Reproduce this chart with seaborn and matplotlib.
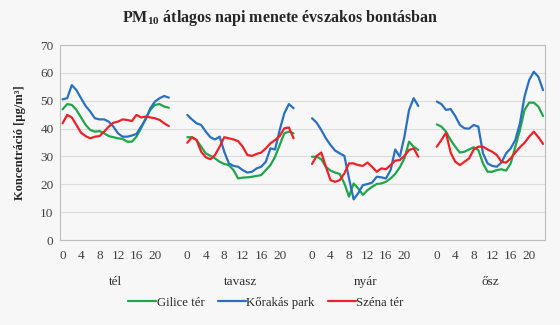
import numpy as np
import pandas as pd
import matplotlib
matplotlib.use("Agg")
import matplotlib.pyplot as plt
import matplotlib.transforms as mtransforms
from matplotlib.lines import Line2D
import seaborn as sns

seasons = ["tél", "tavasz", "nyár", "ősz"]
stations = ["Gilice tér", "Kőrakás park", "Széna tér"]
hours = list(range(24))
hour_ticks = [0, 4, 8, 12, 16, 20]

gilice = {
    "tél": [46.9, 48.8, 48.5, 46.7, 44.0, 41.3, 39.5, 38.9, 39.1, 38.3, 37.3, 36.9,
            36.5, 36.3, 35.3, 35.3, 37.1, 40.1, 43.7, 46.7, 48.5, 48.8, 47.9, 47.5],
    "tavasz": [36.9, 36.9, 35.9, 33.5, 31.1, 30.2, 29.3, 28.1, 27.3, 26.9, 25.1, 22.1,
               22.4, 22.5, 22.7, 23.0, 23.3, 25.1, 26.9, 29.9, 34.1, 38.3, 38.9, 38.3],
    "nyár": [29.9, 29.9, 29.0, 26.3, 24.9, 24.2, 23.7, 20.3, 15.6, 20.3, 18.5, 16.2,
             17.9, 19.1, 20.1, 20.3, 20.9, 22.1, 23.7, 26.1, 29.3, 35.3, 33.5, 32.3],
    "ősz": [41.5, 40.7, 38.9, 35.9, 33.5, 31.4, 31.7, 32.5, 33.3, 32.3, 27.5, 24.5,
            24.5, 25.1, 25.4, 24.9, 27.5, 33.5, 39.5, 46.7, 49.3, 49.3, 47.9, 44.5],
}
korakas = {
    "tél": [50.5, 50.9, 55.6, 53.8, 50.9, 48.1, 46.1, 43.7, 43.3, 43.3, 42.5, 40.7,
            38.3, 37.1, 37.1, 37.5, 38.1, 40.7, 43.3, 47.3, 49.7, 50.9, 51.7, 51.1],
    "tavasz": [44.9, 43.3, 41.9, 41.3, 38.9, 36.9, 36.1, 37.1, 31.7, 27.5, 26.6, 26.3,
               25.1, 24.2, 24.5, 25.7, 26.3, 28.1, 32.9, 32.5, 39.5, 45.5, 48.8, 47.3],
    "nyár": [43.7, 42.1, 39.5, 36.5, 34.1, 32.1, 31.1, 30.2, 22.1, 14.6, 16.8, 19.7,
             20.1, 20.6, 22.7, 22.5, 22.1, 25.1, 32.5, 29.9, 37.1, 46.7, 50.9, 48.1],
    "ősz": [49.7, 48.8, 46.7, 47.0, 44.5, 41.3, 40.1, 40.0, 41.3, 40.7, 31.1, 27.5,
            26.6, 26.3, 27.8, 31.1, 32.9, 35.9, 41.9, 51.5, 57.4, 60.4, 58.6, 53.8],
}
szena = {
    "tél": [41.9, 44.9, 44.0, 41.3, 38.5, 37.3, 36.5, 37.1, 37.3, 38.9, 40.7, 42.1,
            42.5, 43.3, 43.1, 42.7, 44.9, 44.0, 44.3, 44.0, 43.7, 43.1, 41.9, 40.9],
    "tavasz": [34.9, 36.9, 35.9, 31.7, 29.7, 29.0, 30.5, 33.5, 36.9, 36.5, 36.1, 35.5,
               33.5, 30.5, 30.2, 30.9, 31.4, 32.9, 34.7, 35.9, 37.3, 40.1, 40.4, 36.5],
    "nyár": [27.3, 30.2, 31.4, 26.3, 21.5, 20.9, 21.5, 23.9, 27.5, 27.5, 26.9, 26.6,
             27.8, 26.3, 24.5, 25.7, 25.4, 26.9, 28.5, 28.7, 30.2, 32.3, 32.9, 29.9],
    "ősz": [33.5, 35.9, 38.5, 31.4, 28.1, 26.9, 28.1, 29.3, 32.5, 33.5, 33.5, 32.5,
            31.7, 30.5, 28.1, 27.8, 29.3, 31.4, 33.3, 34.9, 37.1, 38.9, 36.9, 34.5],
}
series = {"Gilice tér": gilice, "Kőrakás park": korakas, "Széna tér": szena}

GROUP = 27  # category slots per season (24 hours + gap)

rows = []
for si, s in enumerate(seasons):
    for st in stations:
        for h, v in zip(hours, series[st][s]):
            rows.append({"pos": si * GROUP + h, "value": v, "station": st,
                         "season": s})
df = pd.DataFrame(rows)

sns.set_theme(style="white")
plt.rcParams["font.family"] = ["Liberation Serif", "DejaVu Serif"]
plt.rcParams["mathtext.fontset"] = "custom"
plt.rcParams["mathtext.rm"] = "Liberation Serif"
plt.rcParams["mathtext.bf"] = "Liberation Serif:bold"

fig = plt.figure(figsize=(5.6, 3.25), dpi=100)
fig.patch.set_facecolor("#f7f7f7")
ax = fig.add_axes([0.108, 0.2615, 0.865, 0.6])
ax.set_facecolor("#f7f7f7")

palette = {"Gilice tér": "#1fa64a", "Kőrakás park": "#2a70c0",
           "Széna tér": "#ee2028"}
sns.lineplot(data=df, x="pos", y="value", hue="station", units="season",
             estimator=None, palette=palette, linewidth=1.6, ax=ax,
             legend=False)

ax.set_ylim(0, 70)
ax.set_yticks(range(0, 71, 10))
ax.set_xlim(-0.45, 3 * GROUP + 23.4)
ax.yaxis.grid(True, color="#dcdcdc", linewidth=0.8)
ax.xaxis.grid(False)
ax.set_axisbelow(True)
for sp in ax.spines.values():
    sp.set_color("#bdbdbd")
    sp.set_linewidth(0.8)

xt, xl = [], []
for si in range(len(seasons)):
    for h in hour_ticks:
        xt.append(si * GROUP + h)
        xl.append(str(h))
ax.set_xticks(xt)
ax.set_xticklabels(xl, fontsize=9.5)
ax.tick_params(axis="x", length=0, pad=7, labelcolor="#404040")
ax.tick_params(axis="y", length=0, pad=5, labelcolor="#404040", labelsize=9.5)
ax.set_xlabel("")
ax.set_ylabel("Koncentráció [µg/m³]", fontsize=9, fontweight="bold",
              labelpad=10)

trans = mtransforms.blended_transform_factory(ax.transData, ax.transAxes)
for si, s in enumerate(seasons):
    ax.text(si * GROUP + 11.5, -0.215, s, transform=trans, ha="center",
            va="center", fontsize=9.5, color="#303030")

fig.text(0.5, 0.945, r"PM$_{\mathbf{10}}$ átlagos napi menete évszakos bontásban",
         ha="center", va="center", fontsize=11.5, fontweight="bold")

handles = [Line2D([0], [0], color=palette[st], linewidth=1.6) for st in stations]
fig.legend(handles, stations, loc="center", bbox_to_anchor=(0.475, 0.068),
           ncol=3, frameon=False, fontsize=9.2, handlelength=2.2,
           handletextpad=0.05, columnspacing=1.0)

fig.savefig("out.png", dpi=100, facecolor=fig.get_facecolor())
